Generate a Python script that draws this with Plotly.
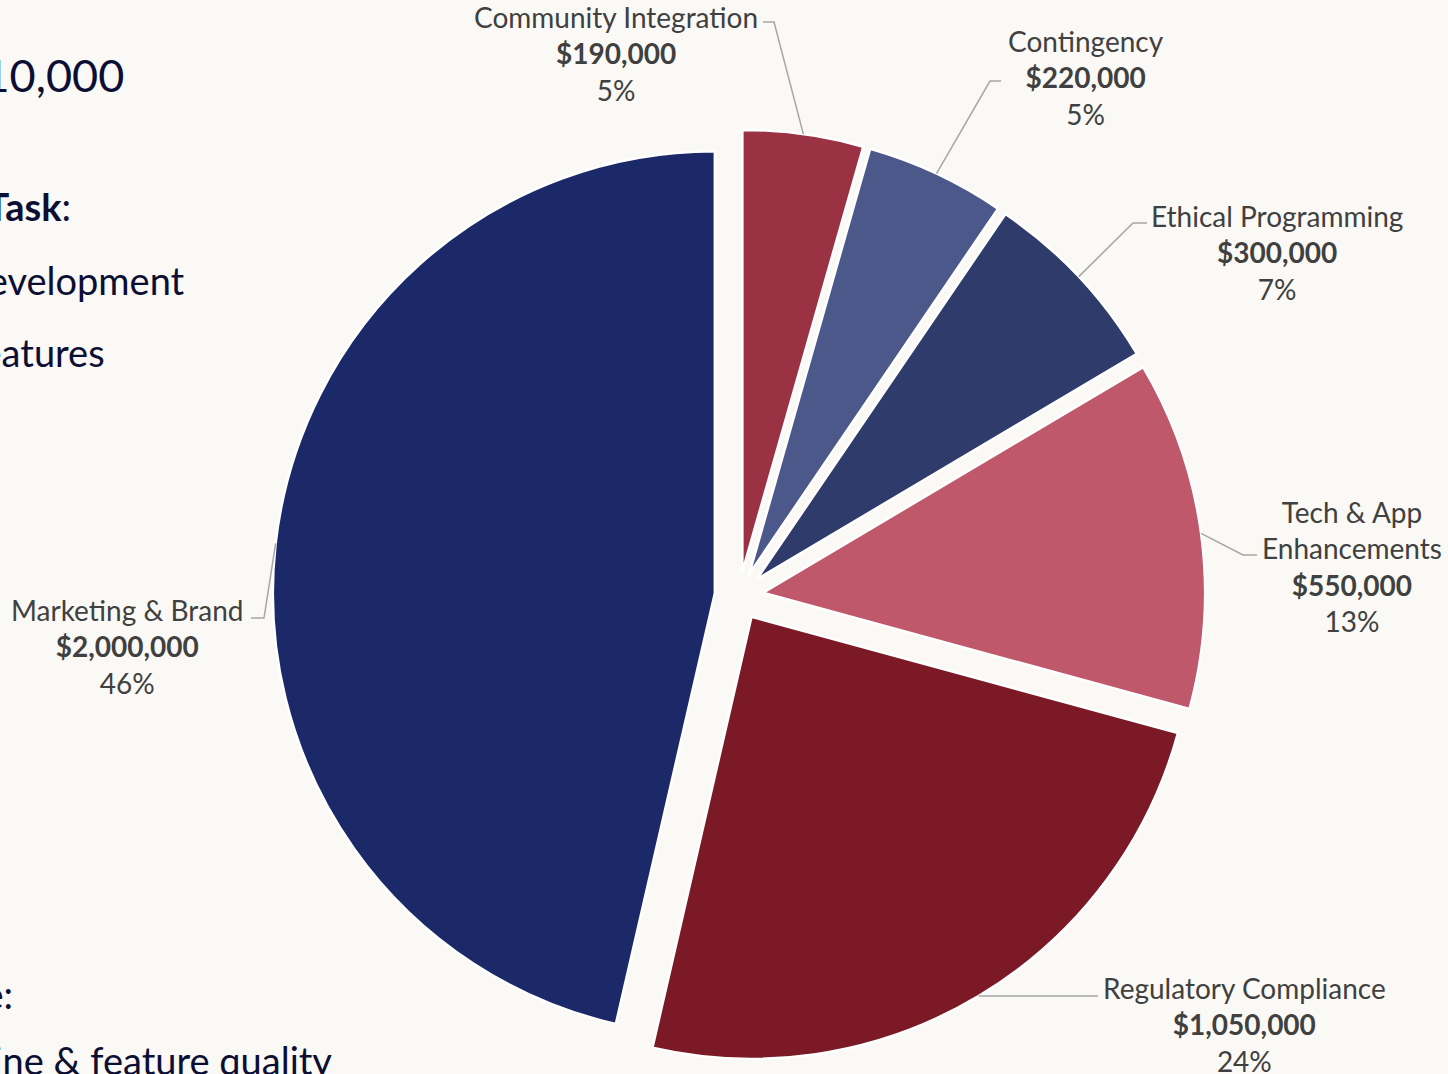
import math
import plotly.graph_objects as go

# Budget allocation by task
categories = ["Community Integration", "Contingency", "Ethical Programming",
              "Tech & App<br>Enhancements", "Regulatory Compliance", "Marketing & Brand"]
values = [190000, 220000, 300000, 550000, 1050000, 2000000]
pct_labels = ["5%", "5%", "7%", "13%", "24%", "46%"]
colors = ["#9B3244", "#4B5889", "#2F3B6B", "#C0586C", "#7B1A26", "#1B2968"]

W, H = 1448, 1074
BG = "#FAF9F5"

# pie geometry (pixels)
CX, CY, R = 739, 596, 442
PULL = 0.055
half_box = R * (1 + PULL)
dom_x = [(CX - half_box) / W, (CX + half_box) / W]
dom_y = [1 - (CY + half_box) / H, 1 - (CY - half_box) / H]

# label layout: elbow point, end of leader, label centre (pixels)
label_layout = [
    dict(elbow=(774, 22), end=(763, 22), pos=(616, 53)),
    dict(elbow=(990, 81), end=(1001, 81), pos=(1086, 77)),
    dict(elbow=(1133, 223), end=(1147, 223), pos=(1277, 253)),
    dict(elbow=(1243, 555), end=(1257, 555), pos=(1352, 566)),
    dict(elbow=(1040, 996), end=(1098, 996), pos=(1244, 1024)),
    dict(elbow=(264, 618), end=(251, 618), pos=(127, 646)),
]


def px(x):
    return x / W


def py(y):
    return 1 - y / H


fig = go.Figure()
fig.add_trace(go.Pie(
    labels=categories,
    values=values,
    sort=False,
    direction="clockwise",
    rotation=0,
    pull=[PULL] * len(values),
    marker=dict(colors=colors, line=dict(color="white", width=2.5)),
    textinfo="none",
    hoverinfo="label+value+percent",
    showlegend=False,
    domain=dict(x=dom_x, y=dom_y),
))

total = sum(values)
shapes = []
annotations = []
cum = 0
for name, val, pct, lay in zip(categories, values, pct_labels, label_layout):
    mid = (cum + val / 2) / total * 2 * math.pi
    cum += val
    sx = CX + PULL * R * math.sin(mid) + R * math.sin(mid)
    sy = CY - PULL * R * math.cos(mid) - R * math.cos(mid)
    ex, ey = lay["elbow"]
    fx, fy = lay["end"]
    shapes.append(dict(
        type="path", xref="paper", yref="paper",
        path=f"M {px(sx)},{py(sy)} L {px(ex)},{py(ey)} L {px(fx)},{py(fy)}",
        line=dict(color="#A6A6A6", width=1.5),
    ))
    lx, ly = lay["pos"]
    annotations.append(dict(
        xref="paper", yref="paper", x=px(lx), y=py(ly),
        xanchor="center", yanchor="middle", showarrow=False, align="center",
        text=f"{name}<br><b>${val:,.0f}</b><br>{pct}",
        font=dict(family="Lato", size=28, color="#404040"),
    ))

# slide text running along the left edge
slide_text = [
    (126, 75, 45, "$4,310,000"),
    (73, 206, 38, "Budget by <b>Task</b>:"),
    (187, 280, 38, "• App development"),
    (107, 352, 38, "• New features"),
    (15, 994, 38, "Outcome:"),
    (334, 1060, 38, "• Timeline & feature quality"),
]
for rx, cy, size, txt in slide_text:
    annotations.append(dict(
        xref="paper", yref="paper", x=px(rx), y=py(cy),
        xanchor="right", yanchor="middle", showarrow=False,
        text=txt, font=dict(family="Lato", size=size, color="#0C0E34"),
    ))

fig.update_layout(
    width=W, height=H,
    margin=dict(l=0, r=0, t=0, b=0),
    paper_bgcolor=BG, plot_bgcolor=BG,
    shapes=shapes, annotations=annotations,
)

fig.write_html("out.html")
